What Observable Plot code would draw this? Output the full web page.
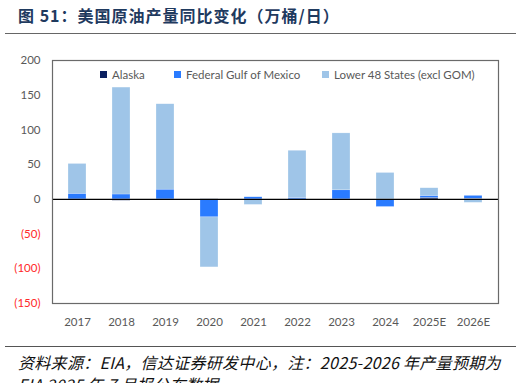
<!DOCTYPE html>
<html><head><meta charset="utf-8">
<script src="https://cdn.jsdelivr.net/npm/d3@7"></script>
<script src="https://cdn.jsdelivr.net/npm/@observablehq/plot@0.6"></script>
<style>
body{margin:0;background:#fff;width:521px;height:383px;overflow:hidden;position:relative;font-family:Lato,"Noto Sans CJK SC",sans-serif;}
#title{position:absolute;left:18px;top:3px;font-family:"Noto Sans CJK SC",sans-serif;font-weight:bold;font-size:16px;letter-spacing:1px;color:#1f3a5f;white-space:nowrap;}
#tline{position:absolute;left:5px;top:33px;width:511px;height:0;border-top:1.5px solid #666;}
#chart{position:absolute;left:0;top:40px;}
#legend{position:absolute;top:68px;left:0;font-size:11.5px;color:#595959;white-space:nowrap;}
#legend span.it{position:absolute;display:flex;align-items:center;}
#legend i{display:inline-block;width:7px;height:7px;margin-right:5px;}
#fline{position:absolute;left:5px;top:346px;width:511px;border-top:1.5px solid #555;}
#foot{position:absolute;left:18px;top:351px;font-family:"Noto Sans CJK SC",sans-serif;font-style:italic;font-size:16px;letter-spacing:0.3px;line-height:22px;color:#111;white-space:nowrap;}
</style></head><body>
<div id="title">图 51：美国原油产量同比变化（万桶/日）</div>
<div id="tline"></div>
<div id="chart"></div>
<div id="legend"></div>
<div id="fline"></div>
<div id="foot">资料来源：EIA，信达证券研发中心，注：2025-2026 年产量预期为<br>EIA 2025 年 7 月报公布数据</div>
<script>
const years = ["2017","2018","2019","2020","2021","2022","2023","2024","2025E","2026E"];
const series = ["Alaska","Federal Gulf of Mexico","Lower 48 States (excl GOM)"];
const alaska = [0, -2, -1, -1, -1, 0, 0, 0, 2, 1];
const gom = [8, 7, 14, -25, 3, 2, 13, -11, 3, 4];
const lower48 = [43, 154, 123, -72, -7, 68, 82, 38, 11, -5];
const colors = ["#0b2060", "#2a7bff", "#9fc5e8"];
const yTicks = [200, 150, 100, 50, 0, -50, -100, -150];

const vals = [alaska, gom, lower48];
const data = [];
series.forEach((s, i) => years.forEach((y, j) => data.push({year: y, series: s, value: vals[i][j]})));

const fmt = d => d < 0 ? `(${-d})` : `${d}`;

const plot = Plot.plot({
  width: 521, height: 300,
  marginTop: 20, marginBottom: 37, marginLeft: 52, marginRight: 23,
  style: {fontFamily: "Lato, sans-serif", fontSize: "11.5px", color: "#595959", background: "#fff"},
  x: {domain: years, paddingInner: 0.6, paddingOuter: 0.3, label: null},
  y: {domain: [-150, 200], label: null, axis: null},
  color: {domain: series, range: colors},
  marks: [
    Plot.barY(data, {x: "year", y: "value", fill: "series", order: series, stroke: "#fff", strokeWidth: 0.4, strokeOpacity: 0.6}),
    Plot.ruleY([0], {stroke: "#000", strokeWidth: 1.2}),
    Plot.frame({stroke: "#6a6a6a", strokeWidth: 1.2}),
    Plot.text(yTicks, {y: d => d, text: fmt, frameAnchor: "left", textAnchor: "end", dx: -12, fill: d => d < 0 ? "#ff2a2a" : "#595959"}),
    Plot.axisX({tickSize: 0, tickPadding: 14, fill: "#595959", label: null})
  ]
});
document.getElementById("chart").appendChild(plot);

const lg = document.getElementById("legend");
const lx = [100, 174, 322];
series.forEach((s, i) => {
  const el = document.createElement("span");
  el.className = "it";
  el.style.left = lx[i] + "px";
  el.innerHTML = `<i style="background:${colors[i]}"></i>${s}`;
  lg.appendChild(el);
});
</script>
</body></html>
